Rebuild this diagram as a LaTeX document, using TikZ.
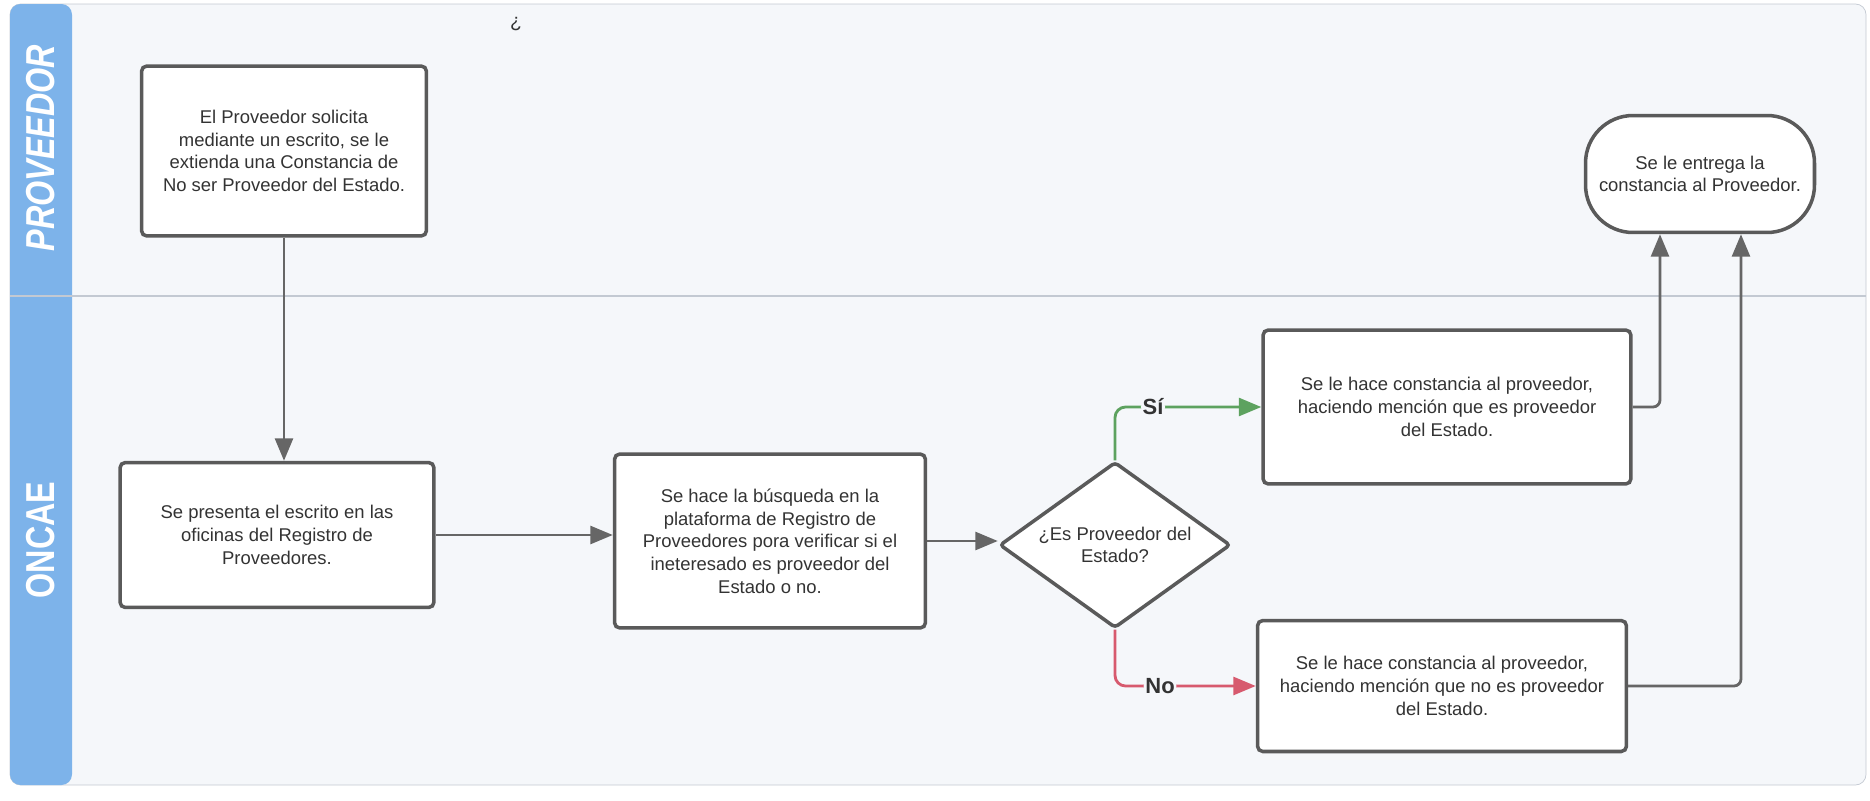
\documentclass[tikz,border=0pt]{standalone}
\usepackage{fontspec}
\setmainfont{Liberation Sans}
\usetikzlibrary{shapes.geometric,arrows.meta}
\definecolor{framebg}{HTML}{F5F7FA}
\definecolor{frameline}{HTML}{C3C9D2}
\definecolor{laneblue}{HTML}{7DB3EA}
\definecolor{boxline}{HTML}{5A5A5A}
\definecolor{flowgray}{HTML}{666666}
\definecolor{txt}{HTML}{333333}
\definecolor{sigreen}{HTML}{5DA25F}
\definecolor{nored}{HTML}{D75A6E}
\begin{document}
\begin{tikzpicture}[x=0.02cm,y=-0.02cm,
    box/.style={draw=boxline,line width=2pt,rounded corners=3pt,fill=white,
      align=center,text=txt,font=\fontsize{10.5}{12.9}\selectfont},
    endbox/.style={box,rounded corners=0.95cm},
    decision/.style={box,diamond,rounded corners=2pt,inner sep=0pt},
    flow/.style={draw=flowgray,line width=1.6pt,
      -{Triangle[length=0.45cm,width=0.36cm]}},
    yesflow/.style={flow,draw=sigreen,rounded corners=6pt},
    noflow/.style={flow,draw=nored,rounded corners=6pt},
    answer/.style={fill=framebg,inner sep=1pt,text=txt,
      font=\fontsize{12.5}{13}\selectfont\bfseries},
    lanetitle/.style={rotate=90,text=white,font=\fontsize{23}{23}\selectfont}]
  \useasboundingbox (0,0) rectangle (1870,801);
  % lanes
  \draw[fill=framebg,draw=frameline,rounded corners=6pt] (10,4) rectangle (1866,785);
  \fill[laneblue,rounded corners=6pt] (10,4) rectangle (72,785);
  \draw[frameline,line width=0.8pt] (10,296) -- (1866,296);
  \node[lanetitle] (lprov) at (41,148) {\scalebox{0.8}[1]{\bfseries\itshape PROVEEDOR}};
  \node[lanetitle] (loncae) at (41,540) {\scalebox{0.8}[1]{\bfseries ONCAE}};
  \node[text=txt,font=\fontsize{11}{11}\selectfont] (mark) at (516,24) {¿};
  % steps
  \node[box,minimum width=5.7cm,minimum height=3.4cm] (prov) at (284,151)
    {El Proveedor solicita\\mediante un escrito, se le\\extienda una Constancia de\\No ser Proveedor del Estado.};
  \node[box,minimum width=6.28cm,minimum height=2.9cm] (pres) at (277,535)
    {Se presenta el escrito en las\\oficinas del Registro de\\Proveedores.};
  \node[box,minimum width=6.22cm,minimum height=3.48cm] (busq) at (770,541)
    {Se hace la búsqueda en la\\plataforma de Registro de\\Proveedores pora verificar si el\\ineteresado es proveedor del\\Estado o no.};
  \node[decision,minimum width=4.62cm,minimum height=3.32cm,
    label={[align=center,text=txt,font=\fontsize{10.5}{12.9}\selectfont]center:{¿Es Proveedor del\\Estado?}}] (dec) at (1115,545) {};
  \node[box,minimum width=7.36cm,minimum height=3.08cm] (si) at (1447,407)
    {Se le hace constancia al proveedor,\\haciendo mención que es proveedor\\del Estado.};
  \node[box,minimum width=7.38cm,minimum height=2.62cm] (no) at (1442,686)
    {Se le hace constancia al proveedor,\\haciendo mención que no es proveedor\\del Estado.};
  \node[endbox,minimum width=4.58cm,minimum height=2.34cm] (fin) at (1700,174)
    {Se le entrega la\\constancia al Proveedor.};
  % connectors
  \draw[flow] (prov.south) -- (prov.south |- pres.north);
  \draw[flow] (pres.east) -- (pres.east -| busq.west);
  \draw[flow] (busq.east) -- (busq.east -| dec.west);
  \draw[yesflow] (dec.north) |- node[answer,pos=0.63] {Sí} (si.west);
  \draw[noflow] (dec.south) |- node[answer,pos=0.66] {No} (no.west);
  \draw[flow,rounded corners=4pt] (si.east) -| ([xshift=-0.8cm]fin.south);
  \draw[flow,rounded corners=4pt] (no.east) -| ([xshift=0.82cm]fin.south);
\end{tikzpicture}
\end{document}
